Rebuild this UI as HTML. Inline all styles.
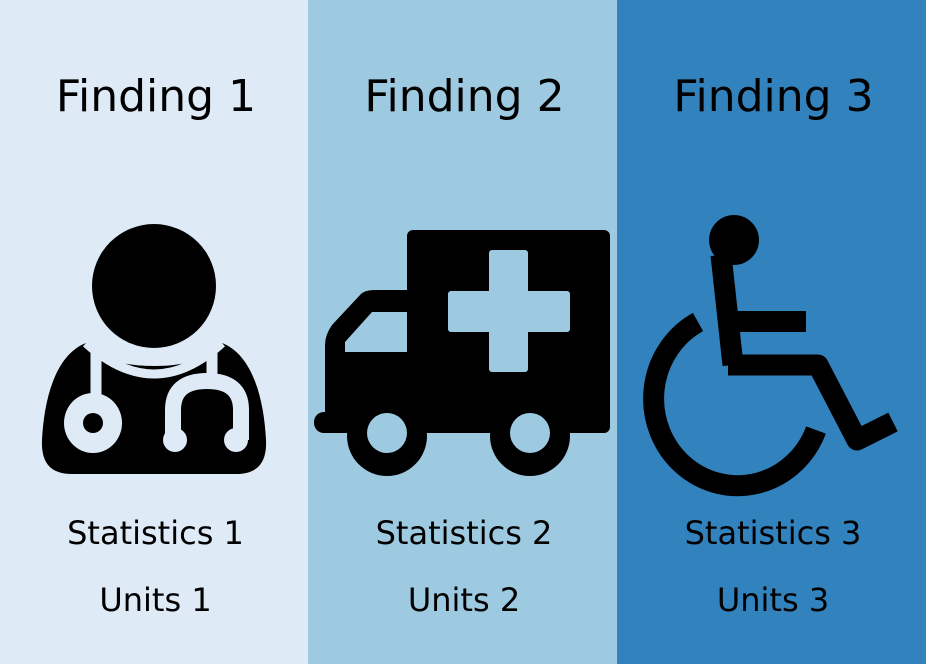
<!DOCTYPE html>
<html><head><meta charset="utf-8"><style>
body{margin:0;width:926px;height:664px;overflow:hidden;font-family:"DejaVu Sans","Liberation Sans",sans-serif}
.p{position:absolute;top:0;height:664px}
.t{position:absolute;width:100%;text-align:center;color:#000}
.h{top:71px;font-size:44px;padding-left:4px;box-sizing:border-box}
.s{top:514px;font-size:32px;padding-left:3px;box-sizing:border-box}
.u{top:581px;font-size:32px;padding-left:3px;box-sizing:border-box}
svg{position:absolute;left:0;top:0}
</style></head><body>
<div class="p" style="left:0;width:308px;background:#deebf7">
<div class="t h">Finding 1</div>
<div class="t s">Statistics 1</div>
<div class="t u">Units 1</div>
</div>
<div class="p" style="left:308px;width:309px;background:#9ecae1">
<div class="t h">Finding 2</div>
<div class="t s">Statistics 2</div>
<div class="t u">Units 2</div>
</div>
<div class="p" style="left:617px;width:309px;background:#3182bd">
<div class="t h">Finding 3</div>
<div class="t s">Statistics 3</div>
<div class="t u">Units 3</div>
</div>
<svg width="926" height="664" viewBox="0 0 926 664">
<g>
<circle cx="154" cy="286" r="62" fill="#000"/>
<path d="M86,343 C55,355 44,400 42,440 C41,462 50,474 72,474 L236,474 C258,474 267,462 266,440 C264,400 253,355 222,343 C205,360 185,366 154,366 C123,366 103,360 86,343Z" fill="#000"/>
<path d="M86,343 Q120,374 154,374 Q188,374 222,343" stroke="#deebf7" stroke-width="9" fill="none"/>
<line x1="96" y1="343" x2="96" y2="400" stroke="#deebf7" stroke-width="11"/>
<ellipse cx="93" cy="423" rx="29" ry="30" fill="#deebf7"/>
<circle cx="93" cy="423" r="10" fill="#000"/>
<line x1="212" y1="343" x2="212" y2="385" stroke="#deebf7" stroke-width="11"/>
<path d="M173,440 L173,410 Q173,381 207,381 Q241,381 241,410 L241,440" stroke="#deebf7" stroke-width="16" fill="none"/>
<circle cx="175" cy="440" r="12" fill="#deebf7"/>
<circle cx="236" cy="440" r="12" fill="#deebf7"/>
</g>
<g>
<rect x="407" y="230" width="203" height="203" rx="6" fill="#000"/>
<path d="M325,433 L325,345 Q325,335 332,325 L360,295 Q364,290 375,290 L410,290 L410,433Z" fill="#000"/>
<rect x="314" y="412" width="100" height="21" rx="10" fill="#000"/>
<path d="M345,352 L345,342 L372,312 L407,312 L407,352Z" fill="#9ecae1"/>
<rect x="448" y="291" width="122" height="41" rx="3" fill="#9ecae1"/>
<rect x="489" y="250" width="39" height="122" rx="3" fill="#9ecae1"/>
<circle cx="387" cy="436" r="40" fill="#000"/>
<circle cx="387" cy="433" r="20" fill="#9ecae1"/>
<circle cx="530" cy="436" r="40" fill="#000"/>
<circle cx="530" cy="433" r="20" fill="#9ecae1"/>
</g>
<g>
<circle cx="734" cy="240" r="25" fill="#000"/>
<line x1="721" y1="255" x2="733" y2="365" stroke="#000" stroke-width="21"/>
<rect x="735" y="311" width="71" height="21" fill="#000"/>
<polyline points="728,365 818,365 857,440 893,422" stroke="#000" stroke-width="21" fill="none" stroke-linejoin="round"/>
<path d="M698,322 A84,87 0 1 0 816,430" stroke="#000" stroke-width="21" fill="none"/>
</g>
</svg>
</body></html>
